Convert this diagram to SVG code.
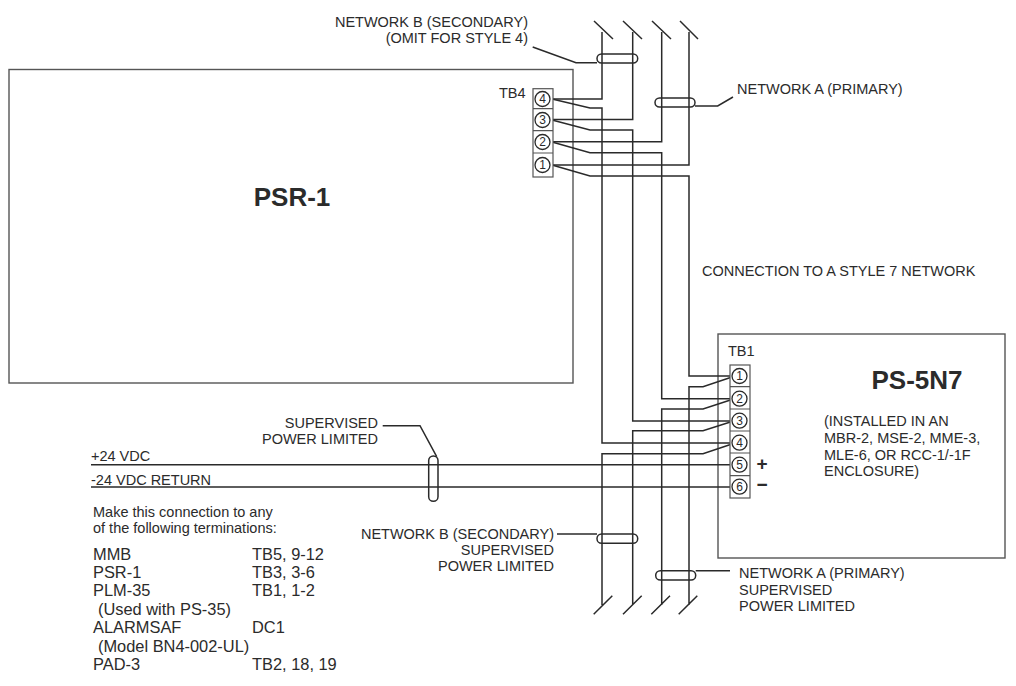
<svg xmlns="http://www.w3.org/2000/svg" width="1016" height="686" viewBox="0 0 1016 686">
<style>
text{font-family:"Liberation Sans",Arial,sans-serif;font-size:14.5px;fill:#2b2b2b}
.e{text-anchor:end}
.t{font-size:12px;text-anchor:middle}
.l{font-size:16.4px}
.box{fill:none;stroke:#555;stroke-width:1.4}
.w{fill:none;stroke:#2a2a2a;stroke-width:1.5}
.c{fill:#fff;stroke:#2a2a2a;stroke-width:1.3}
.tb{fill:#fff;stroke:#555;stroke-width:1.2}
.tie{fill:none;stroke:#2a2a2a;stroke-width:1.5}
</style>
<rect width="1016" height="686" fill="#fff"/>
<g id="PSR-1"><rect class="box" x="9" y="69.5" width="564" height="313.500"/><text x="292" y="206" style="font-size:26px;font-weight:bold;text-anchor:middle">PSR-1</text></g>
<g id="PS-5N7"><rect class="box" x="718" y="334" width="287" height="224"/><text x="917" y="389" style="font-size:26px;font-weight:bold;text-anchor:middle">PS-5N7</text>
<text x="824" y="426">(INSTALLED IN AN</text><text x="824" y="443">MBR-2, MSE-2, MME-3,</text><text x="824" y="460">MLE-6, OR RCC-1/-1F</text><text x="824" y="476">ENCLOSURE)</text></g>
<g id="connectors">
<path class="w" d="M602 32V99H552M594 21L613 39"/>
<path class="w" d="M632.700 32V119.500H552M623 21L642 39"/>
<path class="w" d="M661.700 32V141.700H552M652 21L671 39"/>
<path class="w" d="M689 32V165H552M680 21L698 39"/>
<path class="w" d="M552 99L590 108H602V443H732"/>
<path class="w" d="M552 120L590 130H632.700V421H732"/>
<path class="w" d="M552 142L590 152.700H661.700V398.700H732"/>
<path class="w" d="M552 165L590 176H689V376H732"/>
<path class="w" d="M732 444L703 453.700H602V605M593.700 614.300L612.300 595.700"/>
<path class="w" d="M732 421.500L703 430.700H632.700V605M623 614.300L641.700 595.700"/>
<path class="w" d="M732 399.500L703 409H661.700V605M651.300 614.300L670 595.700"/>
<path class="w" d="M732 377L703 386.700H689V605M678.700 614.300L697.300 595.700"/>
<path class="w" d="M91 464.700H732M91 487H732"/>
<rect class="tie" x="597" y="54" width="40.700" height="9" rx="4.500"/>
<rect class="tie" x="655" y="98" width="40" height="9" rx="4.500"/>
<rect class="tie" x="597" y="534" width="40.700" height="9.300" rx="4.600"/>
<rect class="tie" x="655.700" y="570.700" width="40" height="9.300" rx="4.600"/>
<rect class="tie" x="428.700" y="456" width="9.300" height="45.300" rx="4.600"/>
<path class="w" d="M532.700 47L576 62.700H597"/>
<path class="w" d="M695 106H717.700L733 97"/>
<path class="w" d="M382.700 425.700H420L436.700 456.700"/>
<path class="w" d="M557 534H597"/>
<path class="w" d="M695.700 570.700H730"/>
</g>
<g id="TB4"><rect class="tb" x="533" y="88.700" width="20" height="88.300"/><path class="tb" d="M533 108.700H553M533 130.700H553M533 153H553"/>
<circle class="c" cx="542.500" cy="99" r="7.500"/><circle class="c" cx="542.500" cy="120" r="7.500"/><circle class="c" cx="542.500" cy="142" r="7.500"/><circle class="c" cx="542.500" cy="165" r="7.500"/>
<text class="t" x="542.500" y="103.300">4</text><text class="t" x="542.500" y="124.300">3</text><text class="t" x="542.500" y="146.300">2</text><text class="t" x="542.500" y="169.300">1</text>
<text x="499" y="98">TB4</text></g>
<g id="TB1"><rect class="tb" x="730" y="365" width="20" height="133"/><path class="tb" d="M730 386.700H750M730 409H750M730 431H750M730 453H750M730 475.700H750"/>
<circle class="c" cx="739.500" cy="376" r="7.500"/><circle class="c" cx="739.500" cy="398.700" r="7.500"/><circle class="c" cx="739.500" cy="420.700" r="7.500"/><circle class="c" cx="739.500" cy="442.700" r="7.500"/><circle class="c" cx="739.500" cy="464.700" r="7.500"/><circle class="c" cx="739.500" cy="486.700" r="7.500"/>
<text class="t" x="739.500" y="380.300">1</text><text class="t" x="739.500" y="403">2</text><text class="t" x="739.500" y="425">3</text><text class="t" x="739.500" y="447">4</text><text class="t" x="739.500" y="469">5</text><text class="t" x="739.500" y="491">6</text>
<text x="728" y="356">TB1</text>
<text x="762" y="470" style="font-size:19px;font-weight:bold;text-anchor:middle">+</text><text x="762" y="491" style="font-size:19px;font-weight:bold;text-anchor:middle">−</text></g>
<g id="labels">
<text class="e" x="528" y="27">NETWORK B (SECONDARY)</text><text class="e" x="528" y="43">(OMIT FOR STYLE 4)</text>
<text x="737" y="94">NETWORK A (PRIMARY)</text>
<text x="702" y="276">CONNECTION TO A STYLE 7 NETWORK</text>
<text class="e" x="378" y="428">SUPERVISED</text><text class="e" x="378" y="444">POWER LIMITED</text>
<text x="91" y="461">+24 VDC</text><text x="91" y="485">-24 VDC RETURN</text>
<text x="93" y="517">Make this connection to any</text><text x="93" y="533">of the following terminations:</text>
<text class="e" x="554" y="539">NETWORK B (SECONDARY)</text><text class="e" x="554" y="555">SUPERVISED</text><text class="e" x="554" y="571">POWER LIMITED</text>
<text x="739" y="578">NETWORK A (PRIMARY)</text><text x="739" y="595">SUPERVISED</text><text x="739" y="611">POWER LIMITED</text>
<text class="l" x="93" y="560">MMB</text><text class="l" x="252" y="560">TB5, 9-12</text>
<text class="l" x="93" y="578">PSR-1</text><text class="l" x="252" y="578">TB3, 3-6</text>
<text class="l" x="93" y="596">PLM-35</text><text class="l" x="252" y="596">TB1, 1-2</text>
<text class="l" x="98" y="615">(Used with PS-35)</text>
<text class="l" x="93" y="633">ALARMSAF</text><text class="l" x="252" y="633">DC1</text>
<text class="l" x="98" y="652">(Model BN4-002-UL)</text>
<text class="l" x="93" y="670">PAD-3</text><text class="l" x="252" y="670">TB2, 18, 19</text>
</g>
</svg>
